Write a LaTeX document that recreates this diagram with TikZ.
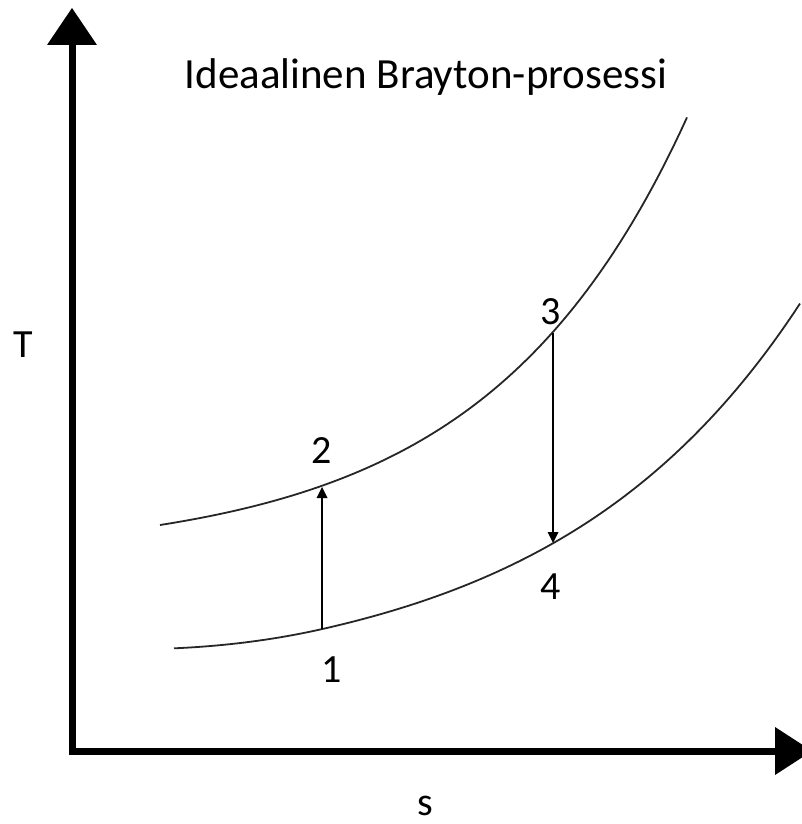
\documentclass[tikz,border=0pt]{standalone}
\usepackage{fontspec}
\setmainfont{Carlito}
\usetikzlibrary{arrows.meta}
\begin{document}
\begin{tikzpicture}[x=1pt,y=-1pt,
  axis/.style={line width=7pt, line join=miter,
    {Triangle[length=37pt,width=50pt,line width=0pt]}-{Triangle[length=37pt,width=48pt,line width=0pt]}},
  curve/.style={line width=1.8pt, color=black!85},
  proc/.style={line width=1.3pt, -{Triangle[length=11pt,width=11pt,line width=0pt]}},
  lbl/.style={font=\fontsize{40}{40}\selectfont, inner sep=0pt},
  ttl/.style={font=\fontsize{43}{43}\selectfont, inner sep=0pt, anchor=base}]
\useasboundingbox (0,0) rectangle (802,824);
% axes
\coordinate (ytip) at (72,8);
\coordinate (origin) at (72,751);
\coordinate (xtip) at (812,751);
\draw[axis] (ytip) -- (origin) -- (xtip);
% state points
\coordinate (p1) at (322,629);
\coordinate (p2) at (322,487);
\coordinate (p3) at (553,333);
\coordinate (p4) at (553,543);
% upper isobar
\draw[curve] plot[domain=160:687, samples=80] (\x, {556.4-14.1*exp(0.005*\x)});
% lower isobar
\draw[curve] plot[domain=174:800, samples=90]
  (\x, {685.6-15.6*exp(0.004*\x) - ((\x<322) ? 6*((322-\x)/148)^2 : 0)});
% processes
\draw[proc] (p1) -- (p2);
\draw[proc] (p3) -- (p4);
% labels
\node[lbl] (l1) at (332,670) {1};
\node[lbl] (l2) at (322,451) {2};
\node[lbl] (l3) at (551,312) {3};
\node[lbl] (l4) at (551,587) {4};
\node[lbl] (T) at (23,345) {T};
\node[lbl, anchor=base] (s) at (425,815) {s};
\node[ttl] (title) at (426,89) {Ideaalinen Brayton-prosessi};
\end{tikzpicture}
\end{document}
